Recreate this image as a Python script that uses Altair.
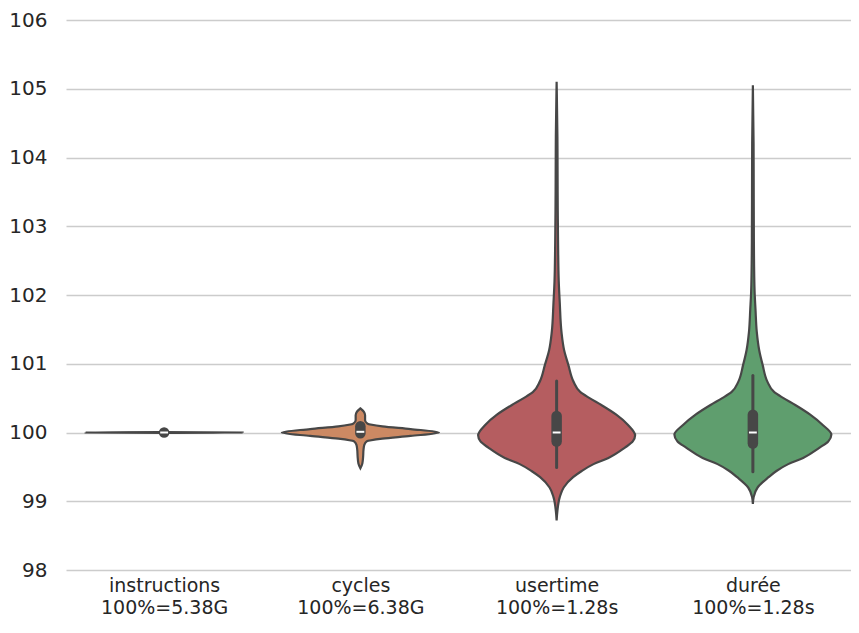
import json
import altair as alt
import pandas as pd

# ---- data ----
categories = ["instructions", "cycles", "usertime", "durée"]
sublabels = ["100%=5.38G", "100%=6.38G", "100%=1.28s", "100%=1.28s"]
colors = ["#5975a4", "#cc8963", "#b55d60", "#5f9e6e"]

# violin profiles: value (percent) and relative half-width (1 = widest)
inst_v = [99.995, 100.0, 100.005]
inst_w = [0, 1, 0]

cyc_v = [99.48, 99.55, 99.65, 99.75, 99.82, 99.87, 99.91, 99.95, 100.0,
         100.05, 100.09, 100.13, 100.18, 100.25, 100.30, 100.35]
cyc_w = [0, 0.025, 0.035, 0.04, 0.05, 0.08, 0.28, 0.64, 1.0,
         0.64, 0.28, 0.09, 0.06, 0.06, 0.045, 0]

usr_v = [98.72, 98.86, 99.06, 99.20, 99.35, 99.44, 99.54, 99.63, 99.78, 99.87,
         99.96, 100.11, 100.26, 100.40, 100.50, 100.59, 100.74, 100.98, 101.20,
         101.46, 101.89, 102.20, 102.8, 103.5, 104.3, 105.1]
usr_w = [0, 0.01, 0.04, 0.09, 0.21, 0.32, 0.47, 0.66, 0.87, 0.97,
         1.0, 0.91, 0.76, 0.57, 0.42, 0.30, 0.215, 0.15, 0.095,
         0.062, 0.04, 0.027, 0.018, 0.013, 0.01, 0]

dur_v = [98.96, 99.06, 99.20, 99.35, 99.44, 99.54, 99.63, 99.78, 99.87, 99.97,
         100.11, 100.26, 100.40, 100.50, 100.59, 100.74, 100.98, 101.20, 101.46,
         101.80, 102.05, 102.6, 103.4, 104.2, 105.05]
dur_w = [0, 0.01, 0.06, 0.20, 0.30, 0.45, 0.64, 0.85, 0.96, 1.0,
         0.89, 0.73, 0.54, 0.39, 0.27, 0.185, 0.125, 0.08, 0.05,
         0.033, 0.022, 0.014, 0.011, 0.009, 0]

# inner box: whisker low, q1, median, q3, whisker high
whisk_lo = [100.0, 99.99, 99.49, 99.43]
q1 = [99.9995, 99.99, 99.87, 99.84]
median = [100.0, 100.01, 100.0, 100.0]
q3 = [100.0005, 100.09, 100.24, 100.26]
whisk_hi = [100.0, 100.09, 100.75, 100.83]

y_ticks = [98, 99, 100, 101, 102, 103, 104, 105, 106]

# ---- tables ----
profiles = [(inst_v, inst_w), (cyc_v, cyc_w), (usr_v, usr_w), (dur_v, dur_w)]
rows = []
for i, (vs, ws) in enumerate(profiles):
    for v, w in zip(vs, ws):
        rows.append({"cat": categories[i], "idx": i, "v": v, "w": w})
vdf = pd.DataFrame(rows)

bdf = pd.DataFrame({
    "cat": categories, "idx": list(range(len(categories))),
    "wlo": whisk_lo, "q1": q1, "med": median, "q3": q3, "whi": whisk_hi,
})

label_lines = [[c, s] for c, s in zip(categories, sublabels)]
label_expr = json.dumps(label_lines, ensure_ascii=False) + "[datum.value]"

HALF = 0.4
LINE = "#474747"
FONT = "DejaVu Sans"

xscale = alt.Scale(domain=[-0.5, 3.5], nice=False, zero=False)
yscale = alt.Scale(domain=[98, 106], nice=False, zero=False)

x_axis = alt.Axis(values=list(range(len(categories))), labelExpr=label_expr,
                  grid=False, domain=False, ticks=False, title=None,
                  labelFontSize=19, labelLineHeight=22.5, labelPadding=6,
                  labelColor="#262626", labelFont=FONT)
y_axis = alt.Axis(values=y_ticks, format="d", grid=True, gridColor="#cccccc",
                  gridWidth=1.5, domain=False, ticks=False, title=None,
                  labelFontSize=20, labelPadding=19, labelColor="#262626",
                  labelFont=FONT)

violins = alt.Chart(vdf).transform_calculate(
    xl=f"datum.idx - {HALF} * datum.w",
    xr=f"datum.idx + {HALF} * datum.w",
).mark_area(orient="horizontal", interpolate="monotone", stroke=LINE,
            strokeWidth=2.2, opacity=1).encode(
    y=alt.Y("v:Q", scale=yscale, axis=y_axis),
    x=alt.X("xl:Q", scale=xscale, axis=x_axis),
    x2="xr:Q",
    color=alt.Color("cat:N", scale=alt.Scale(domain=categories, range=colors),
                    legend=None),
)

whiskers = alt.Chart(bdf).mark_rule(color=LINE, strokeWidth=3,
                                    strokeCap="round").encode(
    x=alt.X("idx:Q", scale=xscale),
    y=alt.Y("wlo:Q", scale=yscale),
    y2="whi:Q",
)

boxes = alt.Chart(bdf).mark_rule(color=LINE, strokeWidth=10.5,
                                 strokeCap="round").encode(
    x=alt.X("idx:Q", scale=xscale),
    y=alt.Y("q1:Q", scale=yscale),
    y2="q3:Q",
)

medians = alt.Chart(bdf).transform_calculate(
    ml="datum.idx - 0.02", mr="datum.idx + 0.02"
).mark_rule(color="white", strokeWidth=2).encode(
    x=alt.X("ml:Q", scale=xscale),
    x2="mr:Q",
    y=alt.Y("med:Q", scale=yscale),
)

chart = alt.layer(violins, whiskers, boxes, medians).properties(
    width=785, height=550,
    autosize=alt.AutoSizeParams(type="none"),
    padding={"left": 58, "top": 12, "right": 0, "bottom": 49},
    background="white",
).configure_view(stroke=None)

chart.save("out.html", embed_options={"renderer": "svg", "actions": False})
